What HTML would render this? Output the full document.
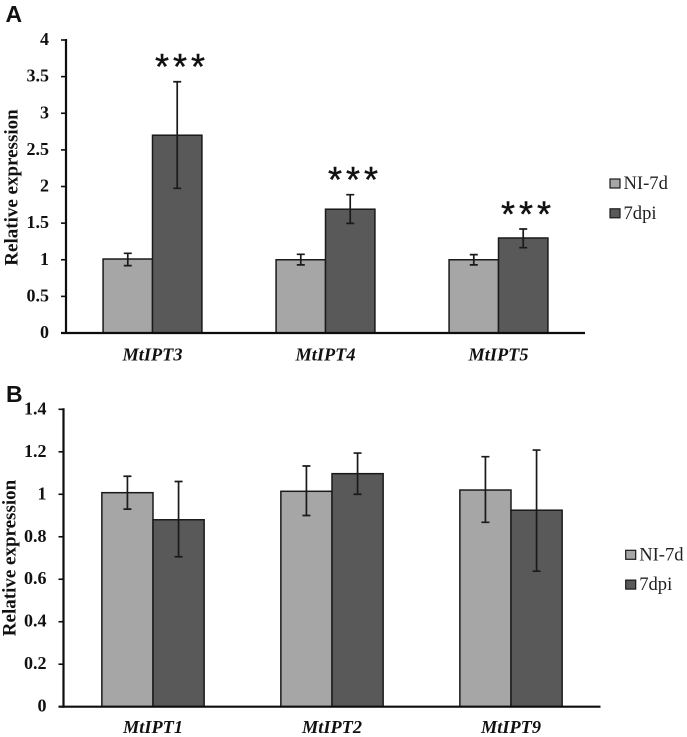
<!DOCTYPE html>
<html>
<head>
<meta charset="utf-8">
<title>Relative expression of MtIPT genes</title>
<style>
html,body{margin:0;padding:0;background:#fff;width:687px;height:737px;overflow:hidden}
svg{display:block;position:absolute;left:0;top:0;filter:blur(.3px)}
text{fill:#111}
.tick{font:bold 18px "Liberation Serif",serif}
.ytitle{font:bold 19px "Liberation Serif",serif}
.cat{font:italic bold 18.3px "Liberation Serif",serif}
.leg{font:18.6px "Liberation Serif",serif;fill:#222}
.panel{font:bold 23px "Liberation Sans",sans-serif}
.star{font:36px "Liberation Sans",sans-serif;letter-spacing:4px;stroke:#111;stroke-width:.4px}
</style>
</head>
<body>
<svg id="figure" width="687" height="737" viewBox="0 0 687 737" xmlns="http://www.w3.org/2000/svg"></svg>
<script>
// Panel A data
const categoriesA = ['MtIPT3', 'MtIPT4', 'MtIPT5'];
const niValuesA = [1.01, 1.0, 1.0];
const niHighA = [1.088, 1.074, 1.07];
const niLowA = [0.92, 0.93, 0.93];
const dpiValuesA = [2.7, 1.69, 1.297];
const dpiHighA = [3.43, 1.888, 1.42];
const dpiLowA = [1.975, 1.497, 1.165];
const significanceA = ['***', '***', '***'];
const tickLabelsA = ['0', '0.5', '1', '1.5', '2', '2.5', '3', '3.5', '4'];

// Panel B data
const categoriesB = ['MtIPT1', 'MtIPT2', 'MtIPT9'];
const niValuesB = [1.0075, 1.014, 1.02];
const niHighB = [1.085, 1.133, 1.177];
const niLowB = [0.93, 0.90, 0.868];
const dpiValuesB = [0.88, 1.097, 0.925];
const dpiHighB = [1.06, 1.194, 1.208];
const dpiLowB = [0.706, 1.0, 0.638];
const significanceB = ['', '', ''];
const tickLabelsB = ['0', '0.2', '0.4', '0.6', '0.8', '1', '1.2', '1.4'];

const seriesNames = ['NI-7d', '7dpi'];

const NS = 'http://www.w3.org/2000/svg';
const LIGHT = '#a6a6a6', DARK = '#595959', INK = '#1a1a1a';
const figure = document.getElementById('figure');

function make(tag, attrs, parent, text) {
  const node = document.createElementNS(NS, tag);
  for (const k in attrs) node.setAttribute(k, attrs[k]);
  if (text !== undefined) node.textContent = text;
  parent.appendChild(node);
  return node;
}

function drawPanel(c) {
  const g = make('g', {}, figure);
  
  

  const maxV = parseFloat(c.ticks[c.ticks.length - 1]);
  const yOf = v => c.base - (v / maxV) * (c.base - c.top);
  const catW = (c.right - c.left) / c.cats.length;
  const barW = catW / 3.5;
  const xOf = i => c.left + catW * (i + 0.5);

  const panel = make('text', {x: c.panelX, y: c.panelY, class: 'panel'}, g, c.id);
  
  

  const title = make('text', {class: 'ytitle', 'text-anchor': 'middle',
    transform: 'translate(' + c.titleX + ',' + c.titleY + ') rotate(-90)'}, g, 'Relative expression');
  
  

  c.cats.forEach((cat, i) => {
    const cx = xOf(i);
    const parts = [
      {key: 'ni-7d', x: cx - barW, v: c.ni[i], hi: c.niHi[i], lo: c.niLo[i], fill: LIGHT},
      {key: '7dpi', x: cx, v: c.dpi[i], hi: c.dpiHi[i], lo: c.dpiLo[i], fill: DARK}
    ];
    parts.forEach(p => {
      const bar = make('rect', {x: p.x, y: yOf(p.v), width: barW, height: c.base - yOf(p.v),
        fill: p.fill, stroke: INK, 'stroke-width': 1.5}, g);
      
      
    });
    parts.forEach(p => {
      const ex = p.x + barW / 2;
      const eg = make('path', {
        d: 'M' + ex + ' ' + yOf(p.hi) + 'V' + yOf(p.lo) +
           'M' + (ex - 4) + ' ' + yOf(p.hi) + 'H' + (ex + 4) +
           'M' + (ex - 4) + ' ' + yOf(p.lo) + 'H' + (ex + 4),
        fill: 'none', stroke: INK, 'stroke-width': 1.7}, g);
      
      
    });
    if (c.sig[i]) {
      const star = make('text', {x: cx + 29.5, y: yOf(c.dpiHi[i]) - 2.6, class: 'star', 'text-anchor': 'middle'}, g, c.sig[i]);
      
      
    }
    const label = make('text', {x: cx, y: c.catY, class: 'cat', 'text-anchor': 'middle'}, g, cat);
    
    
  });

  const yAxis = make('line', {x1: c.left, x2: c.left, y1: c.top - 1, y2: c.base + 1, stroke: '#0d0d0d', 'stroke-width': 2.2}, g);
  
  
  const xAxis = make('line', {x1: c.left - 5, x2: c.right, y1: c.base, y2: c.base, stroke: '#0d0d0d', 'stroke-width': 2.2}, g);
  
  

  c.ticks.forEach(t => {
    const y = yOf(parseFloat(t));
    const mark = make('line', {x1: c.left - 5, x2: c.left, y1: y, y2: y, stroke: '#0d0d0d', 'stroke-width': 1.6}, g);
    
    
    const lab = make('text', {x: c.left - 17, y: y + 5, class: 'tick', 'text-anchor': 'end'}, g, t);
    
    
  });

  seriesNames.forEach((name, i) => {
    const ly = c.legY + i * 29.8;
    const sw = make('rect', {x: c.legX, y: ly, width: 10, height: 9, fill: i ? DARK : LIGHT, stroke: INK, 'stroke-width': 1.2}, g);
    
    
    const tx = make('text', {x: c.legX + 13.5, y: ly + 10, class: 'leg'}, g, name);
    
    
  });
}

drawPanel({id: 'A', cats: categoriesA, ni: niValuesA, niHi: niHighA, niLo: niLowA,
  dpi: dpiValuesA, dpiHi: dpiHighA, dpiLo: dpiLowA, sig: significanceA, ticks: tickLabelsA,
  left: 66, right: 585, top: 40, base: 333, catY: 360.5, panelX: 5.5, panelY: 22,
  titleX: 17.5, titleY: 187.5, legX: 610, legY: 179});

drawPanel({id: 'B', cats: categoriesB, ni: niValuesB, niHi: niHighB, niLo: niLowB,
  dpi: dpiValuesB, dpiHi: dpiHighB, dpiLo: dpiLowB, sig: significanceB, ticks: tickLabelsB,
  left: 63.5, right: 600.5, top: 409.3, base: 706.7, catY: 733, panelX: 6, panelY: 402,
  titleX: 15.5, titleY: 558, legX: 625.7, legY: 550.3});
</script>
</body>
</html>
